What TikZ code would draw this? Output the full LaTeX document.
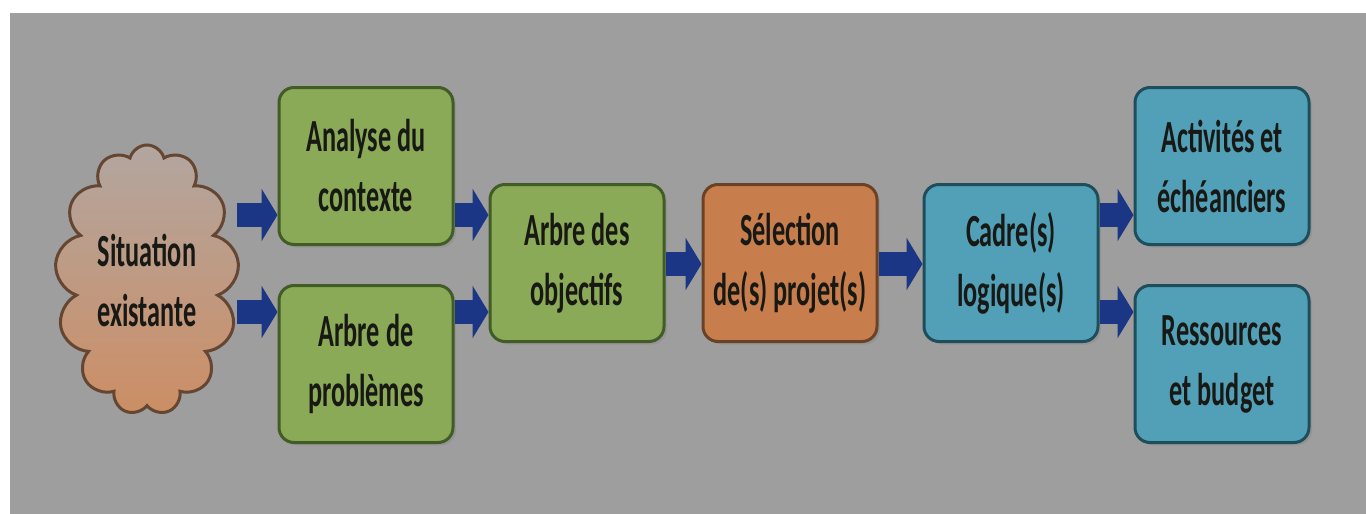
\documentclass[tikz,border=0pt]{standalone}
\usepackage{fontspec}
\setmainfont{Carlito}[FakeStretch=0.57]
\usetikzlibrary{shapes.symbols,arrows.meta,shadows}

\definecolor{bg}{RGB}{158,158,158}
\definecolor{grn}{RGB}{138,170,88}
\definecolor{grnd}{RGB}{66,92,38}
\definecolor{org}{RGB}{200,126,76}
\definecolor{orgd}{RGB}{106,66,38}
\definecolor{blu}{RGB}{82,160,184}
\definecolor{blud}{RGB}{30,78,92}
\definecolor{cldt}{RGB}{178,166,160}
\definecolor{cldb}{RGB}{204,142,100}
\definecolor{cldd}{RGB}{100,70,50}
\definecolor{arr}{RGB}{26,54,132}
\definecolor{txt}{RGB}{24,24,20}

\begin{document}
\begin{tikzpicture}[x=0.5pt,y=-0.5pt,
    box/.style={draw,line width=1.5pt,rounded corners=7.5pt,
        minimum width=87pt,minimum height=78.5pt,align=center,
        text=txt,font=\bfseries\fontsize{23}{30}\selectfont,
        drop shadow={opacity=0.3,shadow xshift=1.5pt,shadow yshift=-1.5pt}},
    flow/.style={draw=arr,line width=12pt,-{Triangle[length=8pt,width=26pt]}}]
    \fill[bg] (10,13) rectangle (1366,514);
    \useasboundingbox (0,0) rectangle (1366,514);
    %
    \coordinate (up) at (0,215);
    \coordinate (lo) at (0,312);
    \coordinate (mid) at (0,264);
    %
    \node[cloud,cloud puffs=13,cloud ignores aspect,draw=cldd,line width=1.5pt,
        minimum width=92pt,minimum height=135pt,align=center,
        top color=cldt,bottom color=cldb,text=txt,
        font=\bfseries\fontsize{23}{30}\selectfont] (sit) at (147,280) {Situation\\existante};
    \node[box,fill=grn,draw=grnd] (ana) at (366,166) {Analyse du\\contexte};
    \node[box,fill=grn,draw=grnd] (prob) at (366,364) {Arbre de\\problèmes};
    \node[box,fill=grn,draw=grnd] (obj) at (577,263) {Arbre des\\objectifs};
    \node[box,fill=org,draw=orgd] (sel) at (790,263) {Sélection\\de(s) projet(s)};
    \node[box,fill=blu,draw=blud] (cad) at (1011,263) {Cadre(s)\\logique(s)};
    \node[box,fill=blu,draw=blud] (act) at (1222,166) {Activités et\\échéanciers};
    \node[box,fill=blu,draw=blud] (res) at (1222,364) {Ressources\\et budget};
    %
    \draw[flow] (sit.east |- up) -- (ana.west |- up);
    \draw[flow] (sit.east |- lo) -- (prob.west |- lo);
    \draw[flow] (ana.east |- up) -- (obj.west |- up);
    \draw[flow] (prob.east |- lo) -- (obj.west |- lo);
    \draw[flow] (obj.east |- mid) -- (sel.west |- mid);
    \draw[flow] (sel.east |- mid) -- (cad.west |- mid);
    \draw[flow] (cad.east |- up) -- (act.west |- up);
    \draw[flow] (cad.east |- lo) -- (res.west |- lo);
    %
\end{tikzpicture}
\end{document}
